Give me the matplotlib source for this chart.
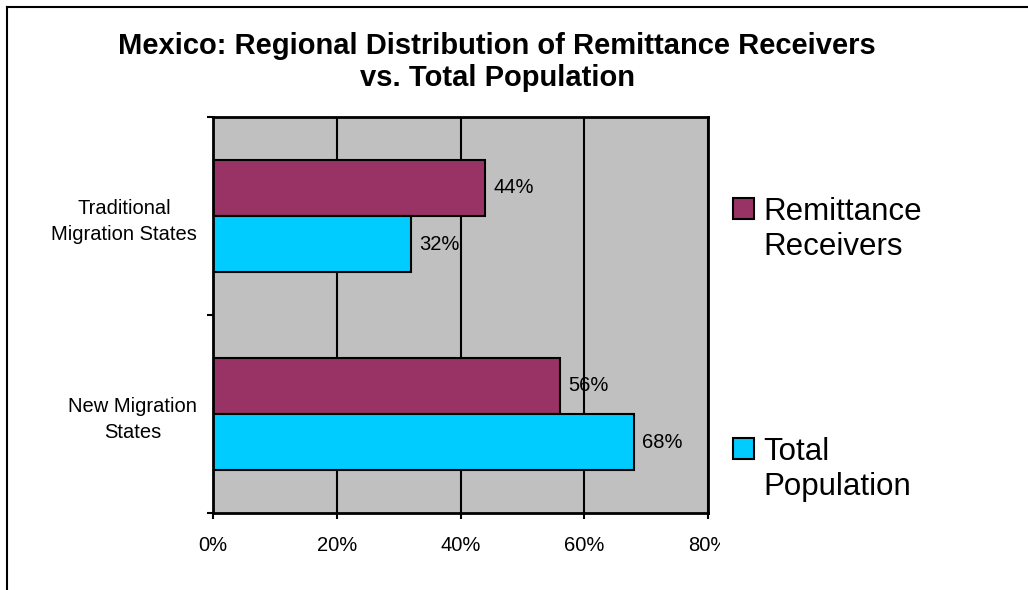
import matplotlib.pyplot as plt
from matplotlib.patches import Rectangle
from matplotlib.lines import Line2D
from matplotlib.transforms import Bbox, TransformedBbox

plt.rcParams['font.family'] = ['Liberation Sans', 'DejaVu Sans']

# Dados (de baixo para cima)
categorias = ['New Migration\nStates', 'Traditional\nMigration States']
remessas = [56, 44]
populacao = [68, 32]
series = ['Remittance\nReceivers', 'Total\nPopulation']
cores = ['#993366', '#00CCFF']
ticks_x = [0, 20, 40, 60, 80]

W, H = 1028, 590
fig = plt.figure(figsize=(W / 100, H / 100), dpi=100)
ax = fig.add_axes([213 / W, 1 - 513 / H, 495 / W, 396 / H])
ax.set_facecolor('#C0C0C0')

# Barras
altura = 0.283
pos = list(range(len(categorias)))
b1 = ax.barh([p + altura / 2 for p in pos], remessas, height=altura,
             color=cores[0], edgecolor='black', linewidth=1.5)
b2 = ax.barh([p - altura / 2 for p in pos], populacao, height=altura,
             color=cores[1], edgecolor='black', linewidth=1.5)
for barras in (b1, b2):
    ax.bar_label(barras, labels=[f'{v}%' for v in barras.datavalues],
                 padding=6, fontsize=14.5)

# Eixos
ax.set_xlim(0, 80)
ax.set_ylim(-0.5, 1.5)
ax.set_xticks(ticks_x)
ax.set_xticklabels([f'{t}%' for t in ticks_x], fontsize=14.5)
ax.set_yticks([-0.5, 0.5, 1.5])
ax.set_yticklabels([])
ax.set_yticks(pos, minor=True)
ax.set_yticklabels(categorias, minor=True, fontsize=14.5,
                   multialignment='center', linespacing=1.45)
ax.tick_params(which='major', length=4.5, width=1.5, direction='out')
ax.tick_params(axis='x', pad=12)
ax.tick_params(axis='y', which='minor', length=0, pad=11.5)
ax.xaxis.grid(True, color='black', linewidth=1.5)
ax.set_axisbelow(True)
for s in ax.spines.values():
    s.set_linewidth(2)

# rótulo 80% cortado como no original
lab = ax.xaxis.get_major_ticks()[-1].label1
lab.set_clip_box(TransformedBbox(Bbox([[0, 0], [720 / W, 1]]), fig.transFigure))
lab.set_clip_on(True)

# Título
fig.text(497 / W, 1 - 32 / H,
         'Mexico: Regional Distribution of Remittance Receivers\nvs. Total Population',
         ha='center', va='top', fontsize=21, fontweight='bold')

# Legenda
y_leg = [198, 438]
for cor, nome, y in zip(cores, series, y_leg):
    fig.add_artist(Rectangle((733 / W, 1 - (y + 21) / H), 21 / W, 21 / H,
                             facecolor=cor, edgecolor='black', linewidth=1.5,
                             transform=fig.transFigure))
    fig.text(763 / W, 1 - (y - 1) / H, nome, fontsize=22.5, va='top', ha='left')

# Moldura
fig.add_artist(Line2D([6.5 / W, 6.5 / W], [0, 1 - 6.5 / H], color='black', lw=1.5))
fig.add_artist(Line2D([6.5 / W, 1], [1 - 6.5 / H, 1 - 6.5 / H], color='black', lw=1.5))

fig.savefig('out.png', dpi=100)
